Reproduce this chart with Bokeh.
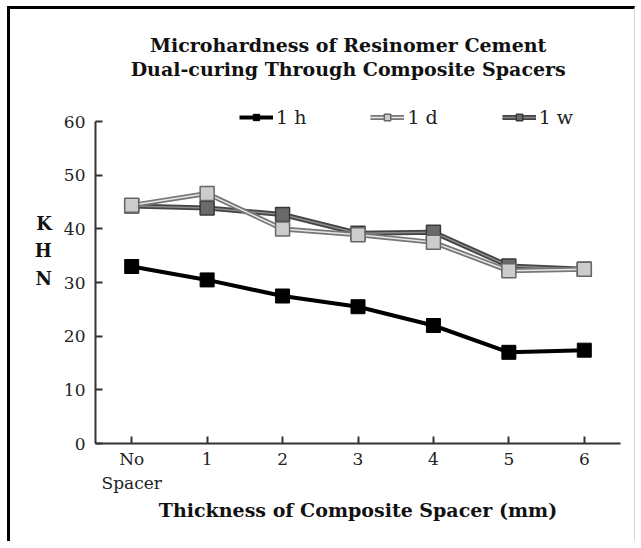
from bokeh.plotting import figure
from bokeh.models import ColumnDataSource, FixedTicker, Label, Legend, LegendItem
from bokeh.embed import file_html
from bokeh.resources import INLINE

# ---- data ----
thickness = [0, 1, 2, 3, 4, 5, 6]
tick_labels = {0: "No\nSpacer", 1: "1", 2: "2", 3: "3", 4: "4", 5: "5", 6: "6"}
khn_1h = [33.0, 30.5, 27.5, 25.5, 22.0, 17.0, 17.4]
khn_1d = [44.4, 46.6, 40.0, 38.9, 37.5, 32.2, 32.5]
khn_1w = [44.3, 43.9, 42.7, 39.2, 39.4, 33.1, 32.5]
y_ticks = [0, 10, 20, 30, 40, 50, 60]
title_lines = ["Microhardness of Resinomer Cement", "Dual-curing Through Composite Spacers"]
x_title = "Thickness of Composite Spacer (mm)"
y_title = "\nK\nH\nN"

SERIF = "DejaVu Serif"

p = figure(width=628, height=535, x_range=(-0.48, 6.48), y_range=(0, 77),
           min_border_left=85, min_border_right=18, min_border_top=21, min_border_bottom=101,
           output_backend="svg", toolbar_location=None)
p.styles = {"margin-left": "7px", "margin-top": "6px",
            "border-top": "3px solid black", "border-left": "3px solid black",
            "border-right": "1px solid #d8d8d8"}
p.outline_line_color = None
p.xgrid.visible = False
p.ygrid.visible = False
p.background_fill_color = "white"
p.border_fill_color = "white"

src = ColumnDataSource(dict(x=thickness, h=khn_1h, d=khn_1d, w=khn_1w))

# 1 h
r_h_line = p.line("x", "h", source=src, line_color="black", line_width=4)
r_h_mark = p.scatter("x", "h", source=src, marker="square", size=14, fill_color="black", line_color="black")
# 1 w
r_w_out = p.line("x", "w", source=src, line_color="#444444", line_width=5)
r_w_in = p.line("x", "w", source=src, line_color="#8a8a8a", line_width=1.5)
r_w_mark = p.scatter("x", "w", source=src, marker="square", size=14, fill_color="#6a6a6a", line_color="#3a3a3a", line_width=1.5)
# 1 d
r_d_out = p.line("x", "d", source=src, line_color="#777777", line_width=5)
r_d_in = p.line("x", "d", source=src, line_color="#e6e6e6", line_width=1.5)
r_d_mark = p.scatter("x", "d", source=src, marker="square", size=14, fill_color="#cccccc", line_color="#666666", line_width=1.5)

legend = Legend(items=[
    LegendItem(label="1 h", renderers=[r_h_line, r_h_mark]),
    LegendItem(label="1 d", renderers=[r_d_out, r_d_in, r_d_mark]),
    LegendItem(label="1 w", renderers=[r_w_out, r_w_in, r_w_mark]),
], orientation="horizontal", location=(144, 315))
legend.background_fill_alpha = 0
legend.border_line_color = None
legend.label_text_font = SERIF
legend.label_text_font_size = "19px"
legend.label_text_color = "#222222"
legend.glyph_width = 34
legend.glyph_height = 16
legend.label_standoff = 3
legend.spacing = 64
legend.padding = 2
legend.margin = 0
p.add_layout(legend, "center")

# axes
for ax in (p.xaxis[0], p.yaxis[0]):
    ax.axis_line_width = 2
    ax.axis_line_color = "#333333"
    ax.major_tick_line_color = "#333333"
    ax.major_tick_line_width = 2
    ax.major_tick_in = 7
    ax.major_tick_out = 0
    ax.minor_tick_line_color = None
    ax.major_label_text_font = SERIF
    ax.major_label_text_font_size = "17px"
    ax.major_label_text_color = "#222222"

p.xaxis.ticker = FixedTicker(ticks=thickness)
p.xaxis.major_label_overrides = tick_labels
p.xaxis.major_label_standoff = 5
p.xaxis.axis_label = x_title
p.xaxis.axis_label_text_font = SERIF
p.xaxis.axis_label_text_font_style = "bold"
p.xaxis.axis_label_text_font_size = "19px"
p.xaxis.axis_label_text_color = "#111111"
p.xaxis.axis_label_standoff = 3

p.yaxis.ticker = FixedTicker(ticks=y_ticks)
p.yaxis.bounds = (0, 60)
p.yaxis.major_label_standoff = 10
p.yaxis.axis_label = y_title
p.yaxis.axis_label_orientation = "horizontal"
p.yaxis.axis_label_text_font = SERIF
p.yaxis.axis_label_text_font_style = "bold"
p.yaxis.axis_label_text_font_size = "18px"
p.yaxis.axis_label_text_color = "#111111"
p.yaxis.axis_label_text_line_height = 1.33
p.yaxis.axis_label_standoff = 9

# title
for i, t in enumerate(title_lines):
    p.add_layout(Label(x=2.87, y=74.3 - 4.5 * i, text=t, text_align="center", text_baseline="middle",
                       text_font=SERIF, text_font_style="bold", text_font_size="19px",
                       text_color="#111111"))

open("out.html", "w").write(file_html(p, INLINE))
